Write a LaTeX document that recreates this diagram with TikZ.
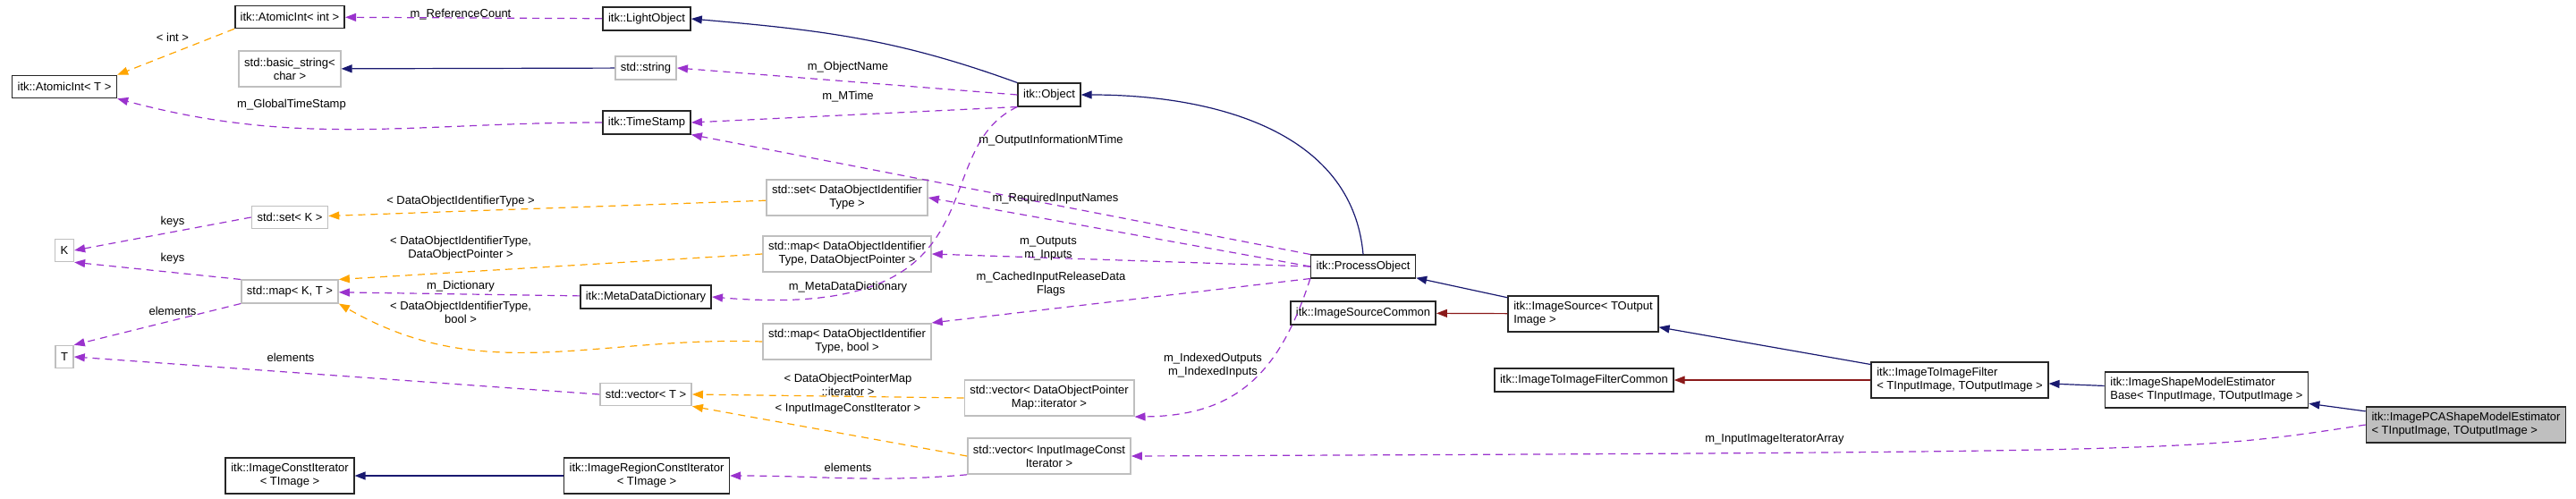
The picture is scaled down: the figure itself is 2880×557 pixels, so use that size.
\documentclass[tikz,border=0pt]{standalone}
\usepackage{fontspec}
\setmainfont{Liberation Sans}
\usetikzlibrary{arrows.meta}

\definecolor{memcol}{HTML}{9A32CD}
\definecolor{tplcol}{HTML}{FFA500}
\definecolor{inhcol}{HTML}{191970}
\definecolor{prtcol}{HTML}{8B1A1A}
\definecolor{boxgray}{HTML}{BFBFBF}

\tikzset{
  txt/.style = {font=\fontsize{6.5}{7.5}\selectfont},
  cls/.style = {txt, draw=black!85, line width=0.8pt, fill=white, inner xsep=3pt, minimum height=12.5pt, align=center},
  ext/.style = {cls, draw=boxgray},
  cur/.style = {cls, fill=boxgray},
  lbl/.style = {txt, inner sep=0pt, align=center},
  tip/.style = {-{Triangle[length=6pt,width=4.5pt]}},
  mem/.style = {tip, memcol, dashed, dash pattern=on 4pt off 3pt, line width=0.6pt},
  tpl/.style = {tip, tplcol, dashed, dash pattern=on 4pt off 3pt, line width=0.6pt},
  inh/.style = {tip, inhcol, line width=0.6pt},
  prt/.style = {tip, prtcol, line width=0.6pt}
}

\begin{document}
\begin{tikzpicture}[x=0.5pt,y=0.5pt]
\useasboundingbox (0,0) rectangle (2880,-557);

% left column
\node [cls] (aintT) at (72,-97) {itk::AtomicInt< T >};
\node [ext] (K) at (72,-280) {K};
\node [ext] (T) at (72,-399) {T};

% second column
\node [cls] (aintI) at (324,-19) {itk::AtomicInt< int >};
\node [ext, minimum height=20pt] (bstr) at (324,-77) {std::basic\_string<\\char >};
\node [ext] (setK) at (324,-243) {std::set< K >};
\node [ext] (mapKT) at (324,-326) {std::map< K, T >};
\node [cls, minimum height=20pt] (citer) at (324,-532) {itk::ImageConstIterator\\< TImage >};

% third column
\node [cls] (light) at (723,-21) {itk::LightObject};
\node [ext] (str) at (722,-76) {std::string};
\node [cls] (tstamp) at (723,-137) {itk::TimeStamp};
\node [cls] (mdd) at (722,-332) {itk::MetaDataDictionary};
\node [ext] (vecT) at (722,-441) {std::vector< T >};
\node [cls, minimum height=20pt] (rciter) at (723,-532) {itk::ImageRegionConstIterator\\< TImage >};

% fourth column
\node [ext, minimum height=20pt] (setD) at (947,-221) {std::set< DataObjectIdentifier\\Type >};
\node [ext, minimum height=20pt] (mapDP) at (947,-284) {std::map< DataObjectIdentifier\\Type, DataObjectPointer >};
\node [ext, minimum height=20pt] (mapDB) at (947,-382) {std::map< DataObjectIdentifier\\Type, bool >};

% fifth column
\node [cls] (obj) at (1173,-106) {itk::Object};
\node [ext, minimum height=20pt] (vecDP) at (1173,-445) {std::vector< DataObjectPointer\\Map::iterator >};
\node [ext, minimum height=20pt] (vecII) at (1173,-510) {std::vector< InputImageConst\\Iterator >};

% filter chain
\node [cls] (proc) at (1524,-298) {itk::ProcessObject};
\node [cls] (srccom) at (1524,-350) {itk::ImageSourceCommon};
\node [cls, minimum height=20pt, align=left] (src) at (1770,-351) {itk::ImageSource< TOutput\\Image >};
\node [cls] (ficom) at (1771,-425) {itk::ImageToImageFilterCommon};
\node [cls, minimum height=20pt, align=left] (filt) at (2191,-425) {itk::ImageToImageFilter\\< TInputImage, TOutputImage >};
\node [cls, minimum height=20pt, align=left] (base) at (2467,-436) {itk::ImageShapeModelEstimator\\Base< TInputImage, TOutputImage >};
\node [cur, minimum height=20pt, align=left] (pca) at (2757,-475) {itk::ImagePCAShapeModelEstimator\\< TInputImage, TOutputImage >};

% inheritance
\draw [inh] (str) -- (bstr);
\draw [inh] (obj.north west) to [out=160,in=-5] (light.east);
\draw [inh] (proc.north) to [out=95,in=0] (obj.east);
\draw [inh] (src) -- (proc);
\draw [prt] (src) -- (srccom);
\draw [inh] (filt) -- (src);
\draw [prt] (filt) -- (ficom);
\draw [inh] (base) -- (filt);
\draw [inh] (pca) -- (base);
\draw [inh] (rciter) -- (citer);

% templates
\draw [tpl] (aintI.south west) -- (aintT.north east);
\draw [tpl] (setD) -- (setK);
\draw [tpl] (mapDP.west) -- (mapKT.north east);
\draw [tpl] (mapDB.west) to [out=178,in=-30] (mapKT.south east);
\draw [tpl] (vecDP.west) -- (vecT.east);
\draw [tpl] (vecII.west) -- (vecT.south east);

% members
\draw [mem] (light) -- (aintI);
\draw [mem] (tstamp.west) to [out=180,in=-15] (aintT.south east);
\draw [mem] (obj.west) -- (str.east);
\draw [mem] (obj.south west) -- (tstamp.east);
\draw [mem] (proc.north west) -- (tstamp.south east);
\draw [mem] (setK.west) -- (K.east);
\draw [mem] (mapKT.north west) -- (K.south east);
\draw [mem] (mapKT.south west) -- (T.north east);
\draw [mem] (vecT.west) -- (T.east);
\draw [mem] (mdd) -- (mapKT);
\draw [mem] (obj.south west) .. controls (1030,-170) and (1130,-360) .. (mdd.east);
\draw [mem] (proc.west) -- (setD.east);
\draw [mem] (proc.west) -- (mapDP.east);
\draw [mem] (proc.south west) -- (mapDB.north east);
\draw [mem] (proc.south west) .. controls (1430,-420) and (1380,-465) .. (vecDP.south east);
\draw [mem] (vecII.south west) to [out=185,in=0] (rciter.east);
\draw [mem] (pca.west) .. controls (2450,-505) .. (vecII.east);

% member and template labels
\node [lbl] (lref) at (515,-16) {m\_ReferenceCount};
\node [lbl] (lint) at (193,-42) {< int >};
\node [lbl] (lgts) at (326,-117) {m\_GlobalTimeStamp};
\node [lbl] (lname) at (948,-75) {m\_ObjectName};
\node [lbl] (lmt) at (948,-108) {m\_MTime};
\node [lbl] (lomt) at (1175,-157) {m\_OutputInformationMTime};
\node [lbl] (lsetd) at (515,-225) {< DataObjectIdentifierType >};
\node [lbl] (lkeys1) at (193,-248) {keys};
\node [lbl] (lmapdp) at (515,-278) {< DataObjectIdentifierType,\\DataObjectPointer >};
\node [lbl] (lkeys2) at (193,-289) {keys};
\node [lbl] (ldict) at (515,-320) {m\_Dictionary};
\node [lbl] (lmapdb) at (515,-349) {< DataObjectIdentifierType,\\bool >};
\node [lbl] (lelem1) at (193,-348) {elements};
\node [lbl] (lelem2) at (325,-400) {elements};
\node [lbl] (lreq) at (1180,-222) {m\_RequiredInputNames};
\node [lbl] (lio) at (1172,-278) {m\_Outputs\\m\_Inputs};
\node [lbl] (lmdd) at (948,-321) {m\_MetaDataDictionary};
\node [lbl] (lcache) at (1175,-318) {m\_CachedInputReleaseData\\Flags};
\node [lbl] (lidx) at (1356,-409) {m\_IndexedOutputs\\m\_IndexedInputs};
\node [lbl] (lvdp) at (948,-430) {< DataObjectPointerMap\\::iterator >};
\node [lbl] (lvii) at (948,-457) {< InputImageConstIterator >};
\node [lbl] (lelem3) at (948,-523) {elements};
\node [lbl] (larr) at (1984,-491) {m\_InputImageIteratorArray};

\end{tikzpicture}
\end{document}
